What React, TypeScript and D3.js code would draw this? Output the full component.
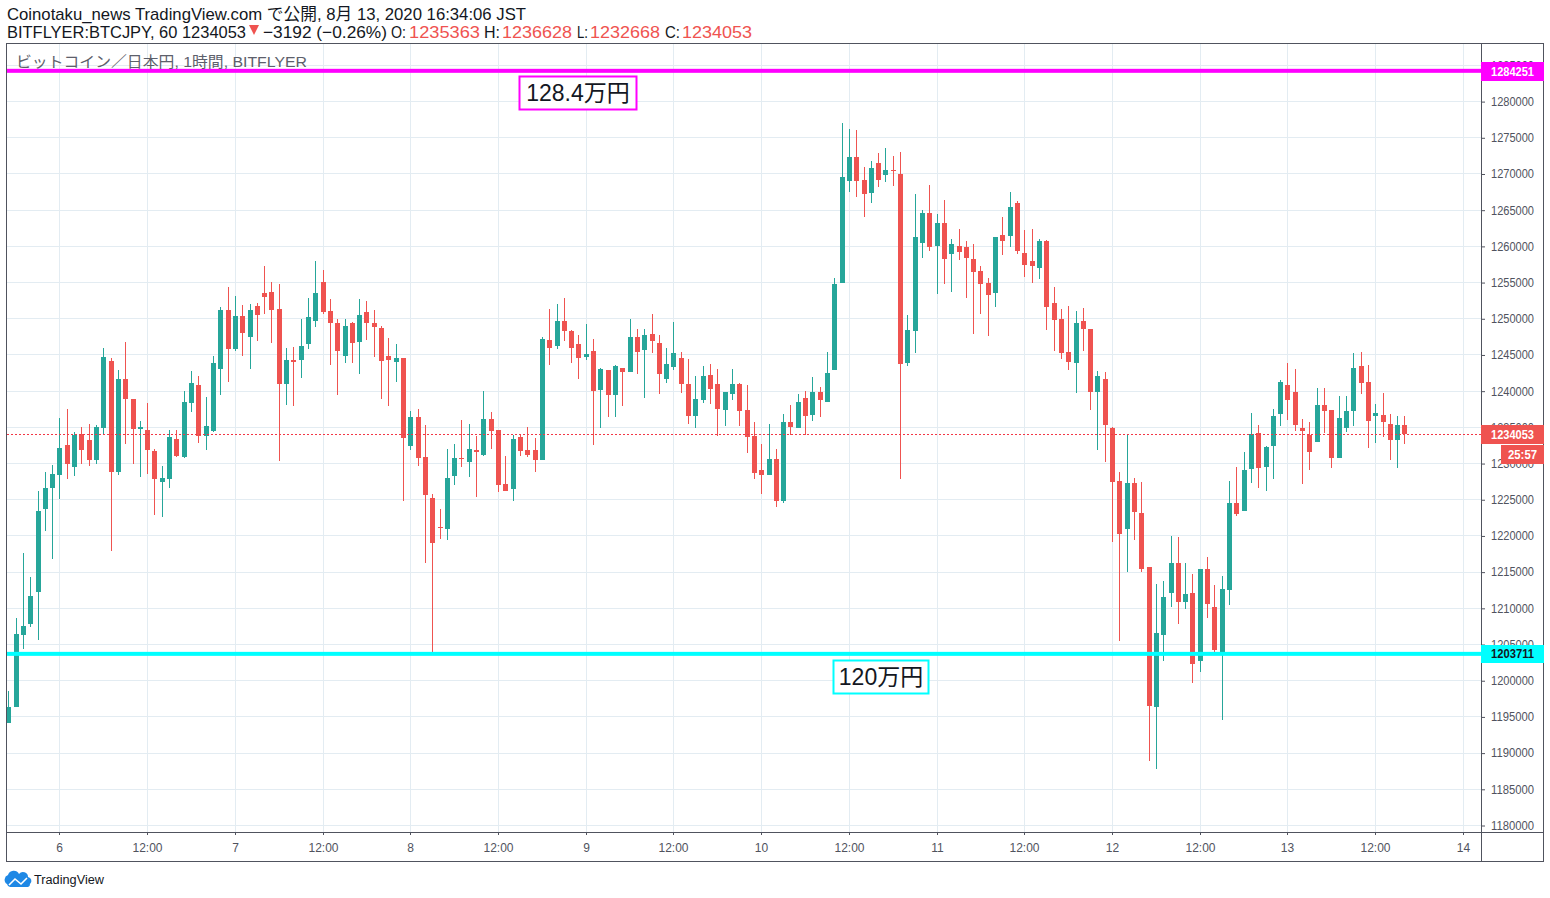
import React, { useEffect, useRef } from 'react';
import * as d3 from 'd3';

// hourly candles, thousand yen
const opens = [1194.17,1196.37,1206.32,1207.84,1212.26,1223.72,1226.62,1228.41,1232.56,1229.52,1234.08,1233.25,1230.49,1234.91,1244.16,1228.83,1241.67,1238.9,1234.77,1234.63,1231.73,1227.45,1227.86,1233.39,1230.9,1238.36,1240.85,1233.8,1234.49,1243.06,1251.2,1245.82,
  1250.37,1247.47,1251.76,1253.55,1253.69,1251.34,1241,1244.3,1244.3,1246.51,1249.68,1255.07,1251.07,1249.41,1244.85,1249.41,1246.78,1250.93,1249.41,1248.72,1244.85,1244.02,1244.57,1232.42,1236.42,1230.9,1225.23,1221.18,1220.95,1228.27,1230.76,1230.2,
  1231.86,1231.17,1236.14,1234.62,1227.17,1226.47,1233.66,1231.86,1231.86,1230.48,1247.05,1246.22,1249.68,1248.3,1246.5,1244.71,1245.53,1240.15,1242.91,1239.46,1243.19,1242.63,1247.47,1245.67,1247.88,1246.64,1241.68,1243.33,1244.58,1240.99,1236.57,1238.78,
  1242.23,1240.99,1237.39,1239.6,1240.99,1237.39,1233.8,1229.11,1228.42,1230.63,1224.83,1235.74,1234.91,1239.05,1236.7,1239.88,1238.5,1242.91,1254.93,1269.01,1272.33,1269.15,1267.36,1271.5,1269.84,1270.53,1269.98,1243.88,1248.29,1260.45,1264.59,1260.04,
  1263.21,1258.93,1260.04,1259.9,1258.24,1256.58,1254.93,1253.55,1261.56,1261.42,1265.98,1259.07,1257.96,1257,1260.73,1252.16,1249.96,1245.41,1243.89,1249.69,1248.58,1239.88,1241.67,1234.91,1227.59,1220.96,1227.31,1223.17,1215.71,1196.37,1206.31,1212.12,
  1216.26,1210.87,1212.12,1202.72,1215.43,1210.18,1203.55,1212.53,1224.55,1223.44,1229.24,1234.22,1229.52,1232.42,1236.84,1240.84,1239.88,1234.91,1233.94,1232.97,1238.08,1237.39,1230.76,1234.91,1237.25,1243.47,1241.26,1236.56,1236.7,1235.46,1233.25,1235.363];
const highs = [1198.58,1208.67,1217.64,1214.33,1226.2,1228.83,1229.8,1236.29,1237.53,1234.35,1235.04,1235.46,1235.32,1245.96,1244.57,1242.9,1246.78,1238.9,1235.87,1238.36,1232,1229.66,1234.63,1234.63,1240.02,1242.78,1242.09,1239.19,1244.85,1251.62,1254.38,1253.14,
  1251.89,1252.03,1252.17,1257.28,1255.07,1254.79,1245.95,1246.09,1249.96,1252.86,1257.97,1256.73,1252.72,1249.96,1249.96,1249.55,1252.72,1252.45,1251.2,1249,1247.34,1246.51,1244.57,1237.25,1237.53,1235.32,1225.78,1223.71,1232,1232.69,1236,1235.45,
  1233.79,1240.01,1237.11,1234.62,1231.03,1233.93,1233.93,1235.04,1233.52,1247.47,1251.34,1252.03,1252.86,1248.44,1247.74,1249.26,1247.19,1243.19,1242.91,1243.6,1243.19,1249.95,1248.57,1248.57,1250.65,1247.74,1245.96,1249.55,1245.41,1244.44,1242.09,1243.47,
  1243.75,1243.06,1239.88,1243.06,1241.12,1240.85,1235.74,1232.7,1235.46,1232,1236.84,1238.08,1239.6,1240.02,1241.95,1240.57,1245.41,1255.62,1277.03,1276.2,1276.06,1270.95,1271.78,1272.88,1273.57,1272.47,1273.02,1250.51,1267.22,1265,1268.46,1264.46,
  1266.39,1261,1262.38,1260.73,1260.31,1257.27,1255.62,1261.28,1264.04,1267.49,1266.25,1262.25,1262.38,1261,1260.86,1254.37,1251.34,1251.76,1251.07,1251.48,1248.58,1242.78,1242.64,1235.05,1228.83,1233.94,1228,1227.45,1215.71,1213.36,1213.77,1219.99,
  1219.85,1216.26,1214.74,1215.43,1217.09,1213.22,1214.46,1227.58,1229.52,1231.59,1236.98,1235.32,1232.42,1237.53,1241.53,1243.88,1243.05,1236.15,1235.73,1240.43,1240.43,1237.39,1239.33,1239.33,1245.26,1245.4,1243.61,1238.22,1239.74,1236.84,1236.56,1236.628];
const lows = [1194.17,1196.37,1204.38,1207.42,1205.63,1220.68,1216.8,1225.1,1227.86,1228.28,1229.93,1229.66,1229.93,1234.08,1217.92,1228.41,1232.7,1229.93,1228.14,1228.55,1222.89,1222.61,1226.62,1230.9,1230.76,1237.12,1232.83,1231.87,1234.35,1239.46,1241.26,1245.54,
  1244.85,1243.05,1246.92,1250.65,1246.65,1230.35,1238.08,1237.94,1241.81,1245.82,1248.86,1250.65,1243.61,1239.46,1243.88,1243.88,1242.36,1247.06,1244.71,1238.91,1237.94,1241.26,1224.82,1231.87,1229.66,1216.26,1203.96,1219.57,1219.43,1227.03,1229.51,1228.13,
  1225.37,1231.03,1232,1226.06,1226.2,1224.82,1231.03,1230.89,1228.82,1230.48,1243.6,1245.81,1246.92,1243.88,1241.67,1244.29,1232.55,1234.9,1236.42,1236.42,1237.94,1242.63,1242.36,1239.04,1245.26,1239.6,1241.12,1242.92,1239.74,1235.46,1234.91,1238.36,
  1238.22,1233.8,1235.18,1238.78,1235.18,1231.46,1227.86,1225.79,1228.42,1224,1224.55,1233.94,1234.91,1233.94,1235.87,1236.43,1238.5,1242.91,1254.93,1267.49,1266.8,1264.04,1265.98,1268.18,1268.88,1268.32,1227.85,1243.46,1245.26,1258.38,1259.35,1253.41,
  1254.79,1253.68,1258.1,1252.85,1247.88,1250.64,1247.61,1251.61,1258.79,1259.9,1258.93,1255.75,1254.93,1255.48,1248.43,1245.53,1244.44,1242.92,1239.74,1245.54,1237.39,1231.87,1230.21,1219.16,1205.49,1215.02,1219.44,1215.02,1188.91,1187.81,1202.72,1210.18,
  1207.83,1209.91,1199.68,1201.2,1208.66,1203.97,1194.57,1210.46,1222.75,1223.44,1227.31,1226.62,1226.2,1227.86,1235.18,1236.01,1234.49,1227.17,1229.1,1232.97,1234.22,1229.38,1230.76,1234.35,1235.18,1239.6,1232.14,1232.83,1233.66,1230.49,1229.38,1232.668];
const closes = [1196.37,1206.46,1207.56,1211.71,1223.44,1226.62,1228.55,1232.14,1229.93,1233.94,1231.87,1230.49,1235.04,1244.71,1228.83,1241.67,1238.9,1234.77,1235.04,1231.87,1227.86,1228,1233.66,1231.04,1238.5,1241.12,1233.8,1235.18,1243.88,1251.2,1245.82,1250.38,
  1248.03,1251.2,1250.51,1253,1251.2,1241,1244.3,1244.02,1246.23,1250.24,1253.55,1250.93,1249.41,1245.54,1249,1246.65,1250.51,1249.41,1248.86,1244.16,1244.3,1244.57,1233.52,1236.42,1230.76,1225.65,1219.01,1221.09,1228,1230.76,1230.62,1232,
  1231.58,1236.14,1234.48,1227.03,1226.2,1233.38,1231.72,1231.17,1230.48,1247.19,1245.95,1249.68,1248.3,1245.95,1244.57,1245.12,1240.01,1243.05,1239.46,1243.46,1242.63,1247.47,1245.4,1247.74,1246.92,1242.36,1243.75,1245.27,1240.99,1236.57,1238.91,1242.09,
  1240.3,1237.53,1239.88,1240.99,1237.26,1233.66,1228.69,1228.42,1230.63,1224.83,1235.74,1235.05,1238.5,1236.57,1239.88,1238.78,1242.5,1254.79,1269.57,1272.33,1269.01,1267.22,1270.81,1269.15,1270.53,1270.4,1243.74,1248.43,1261.28,1264.59,1259.9,1263.21,
  1258.24,1260.31,1259.21,1258.38,1256.45,1254.79,1253.27,1261.28,1260.73,1265.42,1259.35,1257.41,1257.27,1260.73,1251.61,1249.82,1245.27,1244.02,1249.41,1248.58,1239.88,1242.09,1235.32,1227.45,1220.27,1227.31,1223.31,1215.43,1196.51,1206.59,1211.56,1216.26,
  1210.87,1211.98,1202.31,1215.43,1210.6,1204.24,1212.67,1224.55,1223.03,1229.1,1234.08,1229.38,1232.28,1236.56,1241.26,1238.77,1235.32,1234.49,1231.59,1238.08,1237.25,1230.76,1236.29,1237.25,1243.19,1241.12,1235.87,1236.98,1235.73,1233.25,1235.32,1234.053];

const timeLabels = ['6','12:00','7','12:00','8','12:00','9','12:00','10','12:00','11','12:00','12','12:00','13','12:00','14'];
const priceTicks = d3.range(1180000, 1285001, 5000);
const topLevel = 1284251;
const bottomLevel = 1203711;
const lastPrice = 1234053;

const GREEN = '#26a69a';
const RED = '#ef5350';
const GRID = '#e3ecf2';
const FRAME = '#50535e';
const UI_FONT = '"Liberation Sans", "Noto Sans CJK JP", sans-serif';

export default function App() {
  const svgRef = useRef<SVGSVGElement>(null);

  useEffect(() => {
    if (!svgRef.current) return;
    const svg = d3.select(svgRef.current).html('');
    svg.append('rect').attr('width', 1550).attr('height', 898).attr('fill', '#fff');

    // first midnight is candle 7, day 13 midnight is candle 175
    const x = d3.scaleLinear().domain([7, 175]).range([58.95, 1287]);
    const y = d3.scaleLinear().domain([1180000, 1285000]).range([825.5, 65.4]);
    const px = (i: number) => Math.ceil(x(i));
    const xTicks = timeLabels.map((_, i) => 7 + i * 12);

    svg.append('defs').append('clipPath').attr('id', 'plot')
      .append('rect').attr('x', 7).attr('y', 44).attr('width', 1474).attr('height', 788);

    const plot = svg.append('g').attr('clip-path', 'url(#plot)');

    plot.selectAll('.vgrid').data(xTicks).join('rect')
      .attr('x', d => px(d)).attr('y', 44).attr('width', 1).attr('height', 788).attr('fill', GRID);
    plot.selectAll('.hgrid').data(priceTicks).join('rect')
      .attr('x', 7).attr('y', d => Math.floor(y(d))).attr('width', 1474).attr('height', 1).attr('fill', GRID);

    const candles = plot.append('g').selectAll('g').data(opens).join('g')
      .attr('fill', (o, i) => (closes[i] >= o ? GREEN : RED));
    candles.append('rect')
      .attr('x', (_, i) => px(i))
      .attr('y', (_, i) => Math.round(y(highs[i] * 1000)))
      .attr('width', 1)
      .attr('height', (_, i) => Math.max(1, Math.round(y(lows[i] * 1000)) - Math.round(y(highs[i] * 1000))));
    candles.append('rect')
      .attr('x', (_, i) => px(i) - 2)
      .attr('y', (o, i) => Math.round(y(Math.max(o, closes[i]) * 1000)))
      .attr('width', 5)
      .attr('height', (o, i) => Math.max(1, Math.round(y(Math.min(o, closes[i]) * 1000)) - Math.round(y(Math.max(o, closes[i]) * 1000))));

    plot.append('line')
      .attr('x1', 7).attr('x2', 1481).attr('y1', Math.floor(y(lastPrice)) + 0.5).attr('y2', Math.floor(y(lastPrice)) + 0.5)
      .attr('stroke', '#f23645').attr('stroke-dasharray', '2 2');

    svg.append('text').text('ビットコイン／日本円, 1時間, BITFLYER')
      .attr('x', 16).attr('y', 67).attr('font-family', UI_FONT).attr('font-size', 15).attr('fill', '#5d606b')
      .attr('textLength', 291).attr('lengthAdjust', 'spacingAndGlyphs');

    plot.append('rect').attr('x', 7).attr('y', y(topLevel) - 2).attr('width', 1474).attr('height', 4).attr('fill', '#ff00ff');
    plot.append('rect').attr('x', 7).attr('y', y(bottomLevel) - 2).attr('width', 1474).attr('height', 4).attr('fill', '#00ffff');

    // price axis
    const gy = svg.append('g').attr('transform', 'translate(1481,0)')
      .call(d3.axisRight(y).tickValues(priceTicks).tickFormat(d3.format('d') as any).tickSize(4).tickPadding(6));
    gy.select('.domain').remove();

    // time axis
    const gx = svg.append('g').attr('transform', 'translate(0,832)')
      .call(d3.axisBottom(x).tickValues(xTicks).tickFormat((_, i) => timeLabels[i]).tickSize(3).tickPadding(8));
    gx.select('.domain').remove();
    gx.selectAll<SVGGElement, number>('.tick').attr('transform', d => `translate(${px(d) + 0.5},0)`);

    [gx, gy].forEach(g => {
      g.attr('font-family', UI_FONT).attr('font-size', 12);
      g.selectAll('.tick line').attr('stroke', FRAME);
      g.selectAll('.tick text').attr('fill', '#50535e');
    });
    gy.selectAll('.tick text').attr('textLength', 43).attr('lengthAdjust', 'spacingAndGlyphs');

    // frame
    svg.append('rect').attr('x', 6.5).attr('y', 43.5).attr('width', 1537).attr('height', 818)
      .attr('fill', 'none').attr('stroke', FRAME);
    svg.append('line').attr('x1', 1481.5).attr('x2', 1481.5).attr('y1', 43.5).attr('y2', 861.5).attr('stroke', FRAME);
    svg.append('line').attr('x1', 6.5).attr('x2', 1543.5).attr('y1', 832.5).attr('y2', 832.5).attr('stroke', FRAME);

    // price tags
    const tag = (px0: number, w: number, top: number, h: number, fill: string, color: string, label: string, tw: number) => {
      svg.append('rect').attr('x', px0).attr('y', top).attr('width', w).attr('height', h).attr('fill', fill);
      svg.append('text').text(label)
        .attr('x', px0 + w / 2).attr('y', top + h / 2 + 4).attr('text-anchor', 'middle')
        .attr('font-family', UI_FONT).attr('font-size', 12).attr('font-weight', 'bold').attr('fill', color)
        .attr('textLength', tw).attr('lengthAdjust', 'spacingAndGlyphs');
    };
    tag(1481, 63, 62, 19, '#ff00ff', '#fff', String(topLevel), 43);
    tag(1481, 63, 645, 18, '#00ffff', '#131722', String(bottomLevel), 43);
    tag(1481, 63, 425, 19, RED, '#fff', String(lastPrice), 43);
    tag(1501, 43, 445, 19, RED, '#fff', '25:57', 29);

    // boxed notes on the two levels
    const note = (left: number, top: number, w: number, h: number, stroke: string, label: string) => {
      svg.append('rect').attr('x', left).attr('y', top).attr('width', w).attr('height', h)
        .attr('fill', '#fff').attr('stroke', stroke).attr('stroke-width', 2);
      svg.append('text').text(label)
        .attr('x', left + w / 2).attr('y', top + h / 2 + 8).attr('text-anchor', 'middle')
        .attr('font-family', UI_FONT).attr('font-size', 23).attr('fill', '#131722');
    };
    note(519.5, 76.5, 117, 33, '#ff00ff', '128.4万円');
    note(833.5, 660.5, 95, 33, '#00ffff', '120万円');

    // header lines
    const head = (txt: string, left: number, right: number, base: number, fill: string) => {
      svg.append('text').text(txt).attr('x', left).attr('y', base)
        .attr('font-family', UI_FONT).attr('font-size', 17).attr('fill', fill)
        .attr('textLength', right - left).attr('lengthAdjust', 'spacingAndGlyphs');
    };
    const INK = '#131722';
    head('Coinotaku_news TradingView.com で公開, 8月 13, 2020 16:34:06 JST', 7, 526, 20, INK);
    head('BITFLYER:BTCJPY, 60 1234053', 7, 246, 38, INK);
    head('−3192 (−0.26%)', 263, 387, 38, INK);
    head('O:', 391, 406, 38, INK);
    head('1235363', 409, 480, 38, RED);
    head('H:', 484, 500, 38, INK);
    head('1236628', 502, 572, 38, RED);
    head('L:', 577, 588, 38, INK);
    head('1232668', 590, 660, 38, RED);
    head('C:', 665, 680, 38, INK);
    head('1234053', 682, 752, 38, RED);
    svg.append('path').attr('d', 'M249,25H259L254,35Z').attr('fill', RED);

    // logo
    svg.append('path').attr('fill', '#1e88e5')
      .attr('d', 'M7,884a5,5 0 0 1 1,-9a6,6 0 0 1 11,-1a5,5 0 0 1 9,3a4,4 0 0 1 2,7a3,3 0 0 1 -2,3H10a4,4 0 0 1 -3,-3Z');
    svg.append('path').attr('fill', 'none').attr('stroke', '#fff').attr('stroke-width', 1.6)
      .attr('d', 'M9,885L15,879L21,884L27,878');
    svg.append('text').text('TradingView').attr('x', 34).attr('y', 884)
      .attr('font-family', UI_FONT).attr('font-size', 12.5).attr('fill', '#131722')
      .attr('textLength', 70).attr('lengthAdjust', 'spacingAndGlyphs');
  }, []);

  return <svg ref={svgRef} width={1550} height={898} style={{ position: 'absolute', left: 0, top: 0 }}></svg>;
}
